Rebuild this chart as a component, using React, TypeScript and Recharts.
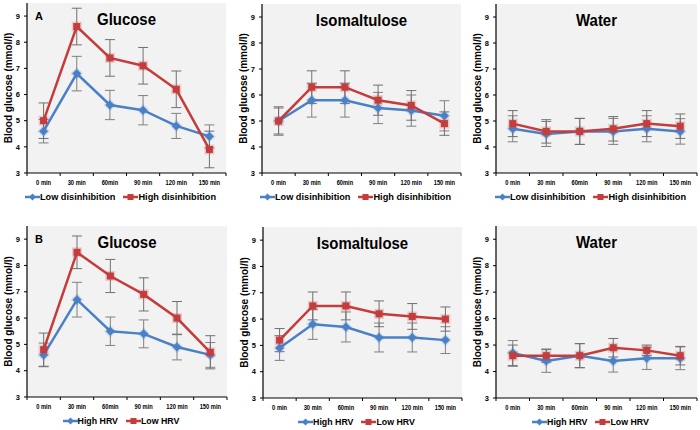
import React from "react";
import { CartesianGrid, ErrorBar, Line, LineChart, XAxis, YAxis } from "recharts";

const times = ["0 min", "30 min", "60min", "90 min", "120 min", "150 min"];
const yTicks = [3, 4, 5, 6, 7, 8, 9];

// Panel A: disinhibition groups
const lowDisGlucose = [4.6, 6.8, 5.6, 5.4, 4.8, 4.4];
const lowDisGlucoseErr = [0.45, 0.66, 0.56, 0.56, 0.48, 0.44];
const highDisGlucose = [5.0, 8.6, 7.4, 7.1, 6.2, 3.9];
const highDisGlucoseErr = [0.68, 0.7, 0.7, 0.7, 0.7, 0.7];

const lowDisIso = [5.0, 5.8, 5.8, 5.5, 5.4, 5.2];
const lowDisIsoErr = [0.55, 0.65, 0.65, 0.6, 0.6, 0.58];
const highDisIso = [5.0, 6.3, 6.3, 5.8, 5.6, 4.9];
const highDisIsoErr = [0.5, 0.63, 0.63, 0.58, 0.57, 0.45];

const lowDisWater = [4.7, 4.5, 4.6, 4.6, 4.7, 4.6];
const lowDisWaterErr = [0.5, 0.48, 0.5, 0.5, 0.5, 0.49];
const highDisWater = [4.9, 4.6, 4.6, 4.7, 4.9, 4.8];
const highDisWaterErr = [0.5, 0.45, 0.5, 0.47, 0.5, 0.47];

// Panel B: HRV groups
const highHrvGlucose = [4.6, 6.7, 5.5, 5.4, 4.9, 4.6];
const highHrvGlucoseErr = [0.45, 0.66, 0.54, 0.53, 0.49, 0.47];
const lowHrvGlucose = [4.8, 8.5, 7.6, 6.9, 6.0, 4.7];
const lowHrvGlucoseErr = [0.63, 0.62, 0.63, 0.63, 0.63, 0.63];

const highHrvIso = [4.9, 5.8, 5.7, 5.3, 5.3, 5.2];
const highHrvIsoErr = [0.47, 0.57, 0.57, 0.55, 0.55, 0.51];
const lowHrvIso = [5.2, 6.5, 6.5, 6.2, 6.1, 6.0];
const lowHrvIsoErr = [0.44, 0.53, 0.53, 0.49, 0.49, 0.46];

const highHrvWater = [4.7, 4.4, 4.6, 4.4, 4.5, 4.5];
const highHrvWaterErr = [0.47, 0.43, 0.46, 0.42, 0.42, 0.43];
const lowHrvWater = [4.6, 4.6, 4.6, 4.9, 4.8, 4.6];
const lowHrvWaterErr = [0.4, 0.25, 0.45, 0.35, 0.2, 0.35];

const BLUE = "#4a80c6";
const RED = "#c43c3c";
const FONT = "'Liberation Sans', Arial, sans-serif";

const build = (a: number[], aErr: number[], b: number[], bErr: number[]) =>
  times.map((time, i) => ({ time, a: a[i], aErr: aErr[i], b: b[i], bErr: bErr[i] }));

function Diamond(props: any) {
  const { cx, cy } = props;
  if (cx == null || cy == null) return null;
  const r = 4.5;
  const g = r + 1.8;
  return (
    <g>
      <polygon points={`${cx},${cy - g} ${cx + g},${cy} ${cx},${cy + g} ${cx - g},${cy}`} fill={BLUE} opacity={0.22} />
      <polygon points={`${cx},${cy - r} ${cx + r},${cy} ${cx},${cy + r} ${cx - r},${cy}`} fill={BLUE} />
    </g>
  );
}

function Square(props: any) {
  const { cx, cy } = props;
  if (cx == null || cy == null) return null;
  const s = 3.5;
  return (
    <g>
      <rect x={cx - s - 1.5} y={cy - s - 1.5} width={2 * s + 3} height={2 * s + 3} fill={RED} opacity={0.22} />
      <rect x={cx - s} y={cy - s} width={2 * s} height={2 * s} fill={RED} />
    </g>
  );
}

function TimeTick(props: any) {
  const { x, y, payload, index, bw } = props;
  return (
    <g>
      <line x1={x - bw / 2} y1={y} x2={x - bw / 2} y2={y + 3} stroke="#000" />
      {index === times.length - 1 && <line x1={x + bw / 2} y1={y} x2={x + bw / 2} y2={y + 3} stroke="#000" />}
      <text
        x={0}
        y={0}
        transform={`translate(${x} ${y + 12}) scale(0.82 1)`}
        textAnchor="middle"
        fontSize={7}
        fontWeight="bold"
        fontFamily={FONT}
        fill="#000"
      >
        {payload.value}
      </text>
    </g>
  );
}

type PanelProps = {
  L: number;
  R: number;
  T: number;
  B: number;
  title: string;
  letter?: string;
  names: [string, string];
  legendSize: number;
  data: ReturnType<typeof build>;
};

const YW = 26;
const XH = 22;

function Panel({ L, R, T, B, title, letter, names, legendSize, data }: PanelProps) {
  const pw = R - L;
  const bw = pw / times.length;
  const cx = (L + R) / 2;
  return (
    <>
      <div style={{ position: "absolute", left: L - YW, top: T - 1 }}>
        <LineChart width={YW + pw + 2} height={1 + (B - T) + XH} data={data} margin={{ top: 1, right: 2, left: 0, bottom: 0 }}>
          <CartesianGrid horizontal={false} vertical={false} fill="#f2f2f2" />
          <XAxis
            dataKey="time"
            interval={0}
            padding={{ left: bw / 2, right: bw / 2 }}
            height={XH}
            tickLine={false}
            tickSize={0}
            tickMargin={0}
            axisLine={{ stroke: "#000", strokeWidth: 1.2 }}
            tick={(p: any) => <TimeTick {...p} bw={bw} />}
          />
          <XAxis xAxisId="top" orientation="top" height={0} tick={false} tickLine={false} axisLine={{ stroke: "#444" }} />
          <YAxis
            domain={[3, 9.5]}
            ticks={yTicks}
            allowDataOverflow
            width={YW}
            tickSize={3}
            tickMargin={4}
            axisLine={{ stroke: "#000", strokeWidth: 1.2 }}
            tickLine={{ stroke: "#000" }}
            tick={{ fontSize: 7.5, fontWeight: "bold", fill: "#000", fontFamily: FONT }}
          />
          <YAxis yAxisId="right" orientation="right" width={0} domain={[3, 9.5]} tick={false} tickLine={false} axisLine={{ stroke: "#444" }} />
          <Line dataKey="a" stroke={BLUE} strokeWidth={2.5} dot={<Diamond />} activeDot={false} isAnimationActive={false}>
            <ErrorBar dataKey="aErr" width={5} strokeWidth={1} stroke="#808080" direction="y" isAnimationActive={false} />
          </Line>
          <Line dataKey="b" stroke={RED} strokeWidth={2.5} dot={<Square />} activeDot={false} isAnimationActive={false}>
            <ErrorBar dataKey="bErr" width={5} strokeWidth={1} stroke="#707070" direction="y" isAnimationActive={false} />
          </Line>
        </LineChart>
      </div>
      <svg width={700} height={430} style={{ position: "absolute", left: 0, top: 0, pointerEvents: "none" }}>
        <text
          x={0}
          y={0}
          transform={`translate(${cx} ${T + 22}) scale(0.88 1)`}
          textAnchor="middle"
          fontSize={17}
          fontWeight="bold"
          fontFamily={FONT}
        >
          {title}
        </text>
        {letter && (
          <text x={L + 8} y={T + 17} fontSize={11} fontWeight="bold" fontFamily={FONT}>
            {letter}
          </text>
        )}
        <text
          x={0}
          y={0}
          transform={`translate(${L - 15} ${(T + B) / 2}) rotate(-90)`}
          textAnchor="middle"
          fontSize={10}
          fontWeight="bold"
          fontFamily={FONT}
        >
          Blood glucose (mmol/l)
        </text>
      </svg>
      <div
        style={{
          position: "absolute",
          left: cx - 6 - 150,
          width: 300,
          top: B + 24 - 7,
          height: 14,
          display: "flex",
          justifyContent: "center",
          alignItems: "center",
          gap: 8,
          fontFamily: FONT,
          fontWeight: "bold",
          fontSize: legendSize,
          color: "#000",
          whiteSpace: "nowrap",
        }}
      >
        {names.map((n, i) => (
          <div key={n} style={{ display: "flex", alignItems: "center" }}>
            <svg width={15} height={10}>
              <line x1={0} y1={5} x2={15} y2={5} stroke={i === 0 ? BLUE : RED} strokeWidth={2.5} />
              {i === 0 ? (
                <polygon points="7.5,1.5 11,5 7.5,8.5 4,5" fill={BLUE} />
              ) : (
                <rect x={4.5} y={2} width={6} height={6} fill={RED} />
              )}
            </svg>
            <span>{n}</span>
          </div>
        ))}
      </div>
    </>
  );
}

const disNames: [string, string] = ["Low disinhibition", "High disinhibition"];
const hrvNames: [string, string] = ["High HRV", "Low HRV"];

export default function App() {
  return (
    <div style={{ position: "absolute", left: 0, top: 0, width: 700, height: 430, background: "#fff", overflow: "hidden" }}>
      <Panel L={27} R={226} T={3} B={173} title="Glucose" letter="A" names={disNames} legendSize={9.2}
        data={build(lowDisGlucose, lowDisGlucoseErr, highDisGlucose, highDisGlucoseErr)} />
      <Panel L={262} R={461} T={4} B={173} title="Isomaltulose" names={disNames} legendSize={9.2}
        data={build(lowDisIso, lowDisIsoErr, highDisIso, highDisIsoErr)} />
      <Panel L={496} R={697} T={4} B={173} title="Water" names={disNames} legendSize={9.2}
        data={build(lowDisWater, lowDisWaterErr, highDisWater, highDisWaterErr)} />
      <Panel L={27} R={227} T={226} B={397} title="Glucose" letter="B" names={hrvNames} legendSize={8.8}
        data={build(highHrvGlucose, highHrvGlucoseErr, lowHrvGlucose, lowHrvGlucoseErr)} />
      <Panel L={263} R={462} T={227} B={398} title="Isomaltulose" names={hrvNames} legendSize={8.8}
        data={build(highHrvIso, highHrvIsoErr, lowHrvIso, lowHrvIsoErr)} />
      <Panel L={496} R={697} T={226} B={398} title="Water" names={hrvNames} legendSize={8.8}
        data={build(highHrvWater, highHrvWaterErr, lowHrvWater, lowHrvWaterErr)} />
    </div>
  );
}
